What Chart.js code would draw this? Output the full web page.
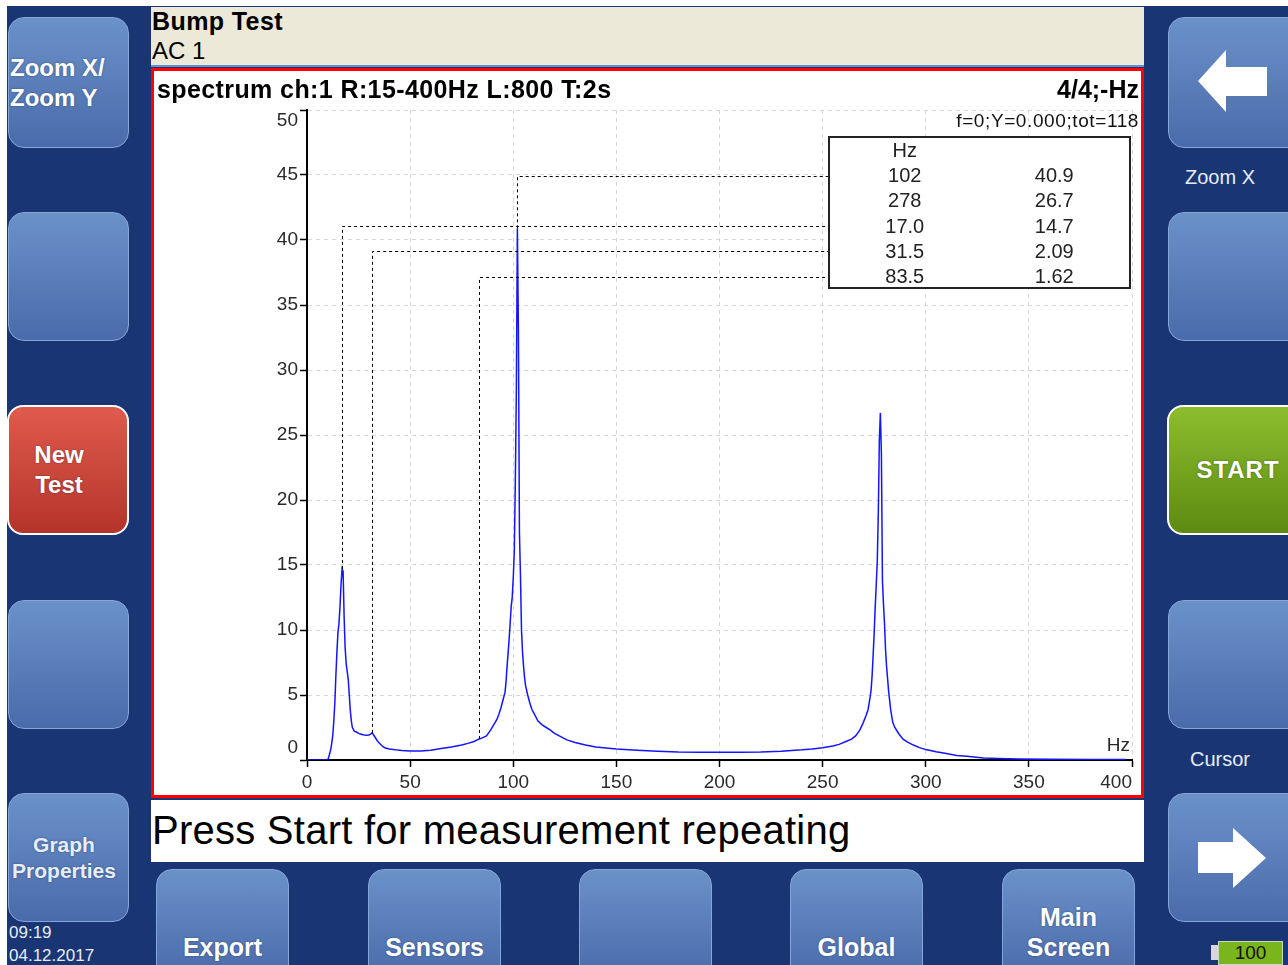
<!DOCTYPE html>
<html>
<head>
<meta charset="utf-8">
<title>Bump Test</title>
<script src="https://cdn.jsdelivr.net/npm/chart.js@4.4.1/dist/chart.umd.min.js"></script>
<style>
  html, body { margin: 0; padding: 0; }
  body {
    width: 1288px; height: 965px; overflow: hidden; position: relative;
    background: #fff; font-family: "Liberation Sans", Arial, sans-serif;
  }
  #panel { position: absolute; left: 7px; top: 6px; right: 0; bottom: 0; background: #1a3573; }
  .btn {
    position: absolute; box-sizing: border-box; border-radius: 16px;
    background: linear-gradient(#6b91c9, #4a6bab);
    border: 1px solid #86a6d8;
    color: #fff; font-weight: bold; font-size: 24px; line-height: 30px;
    display: flex; align-items: center; justify-content: center; text-align: center;
    text-shadow: 0 0 2px rgba(20, 30, 60, 0.5);
  }
  .btn.red { background: linear-gradient(#de5b4d, #b5342a); border: 2px solid #fff; }
  .btn.green { background: linear-gradient(#8cbd2d, #5d8b12); border: 2px solid #fff; }
  .btn.bottom { border-radius: 16px 16px 0 0; align-items: flex-end; padding-bottom: 2px; font-size: 25px; }
  .lbl { position: absolute; color: #e6ecf7; font-size: 20px; }
  #header { position: absolute; left: 151px; top: 7px; width: 993px; height: 58px; background: #ece9d8; border-bottom: 2px solid #6a8cc8; }
  #header .t1 { position: absolute; left: 1px; top: 0px; font-size: 25px; font-weight: bold; color: #000; letter-spacing: 0.4px; }
  #header .t2 { position: absolute; left: 1px; top: 30px; font-size: 24px; color: #000; }
  #frame { position: absolute; left: 151px; top: 68px; width: 993px; height: 730px; box-sizing: border-box; border: 3px solid #ff0000; background: #fff; }
  #chart { position: absolute; left: 154px; top: 71px; }
  .ctext { position: absolute; color: #000; white-space: nowrap; }
  #msg { position: absolute; left: 151px; top: 800px; width: 993px; height: 62px; background: #fff; }
  #msg span { position: absolute; left: 1px; top: 8px; font-size: 40px; letter-spacing: 0.25px; color: #000; }
  #peaks { position: absolute; left: 828px; top: 136px; width: 303px; height: 153px; box-sizing: border-box; border: 2px solid #222; background: #fff; }
  #peaks table { border-collapse: collapse; width: 100%; font-size: 20px; color: #222; }
  #peaks td { width: 50%; text-align: center; padding: 0; height: 25.2px; line-height: 25.2px; }
</style>
</head>
<body>
<div id="panel"></div>

<!-- coluna esquerda -->
<div class="btn" style="left:8px;top:17px;width:121px;height:131px;justify-content:flex-start;text-align:left;padding-left:1px;">Zoom X/<br>Zoom Y</div>
<div class="btn" style="left:8px;top:212px;width:121px;height:129px;"></div>
<div class="btn red" style="left:7px;top:405px;width:122px;height:130px;padding-right:18px;">New<br>Test</div>
<div class="btn" style="left:8px;top:600px;width:121px;height:129px;"></div>
<div class="btn" style="left:8px;top:793px;width:121px;height:129px;font-size:21px;line-height:26px;color:#e8eef8;padding-right:9px;">Graph<br>Properties</div>
<div class="lbl" style="left:9px;top:921px;font-size:17px;line-height:23px;">09:19<br>04.12.2017</div>

<!-- coluna direita -->
<div class="btn" style="left:1168px;top:17px;width:140px;height:131px;">
  <svg width="140" height="131" style="position:absolute;left:-1px;top:-1px">
    <polygon points="30,64 58,33 58,50 99,50 99,79 58,79 58,95" fill="#fff"/>
  </svg>
</div>
<div class="lbl" style="left:1185px;top:166px;">Zoom X</div>
<div class="btn" style="left:1168px;top:212px;width:140px;height:129px;"></div>
<div class="btn green" style="left:1167px;top:405px;width:142px;height:130px;letter-spacing:1px;">START</div>
<div class="btn" style="left:1168px;top:600px;width:140px;height:129px;"></div>
<div class="lbl" style="left:1190px;top:748px;">Cursor</div>
<div class="btn" style="left:1168px;top:793px;width:140px;height:129px;">
  <svg width="140" height="129" style="position:absolute;left:-1px;top:-1px">
    <polygon points="98,65 65,35 65,49 30,49 30,80 65,80 65,95" fill="#fff"/>
  </svg>
</div>
<div style="position:absolute;left:1211px;top:945px;width:8px;height:15px;background:#d8d8d8;"></div>
<div style="position:absolute;left:1218px;top:941px;width:65px;height:24px;box-sizing:border-box;border:1px solid #cfd6c0;background:#7ab51d;color:#111;font-size:19px;text-align:center;line-height:22px;">100</div>

<!-- linha de botões inferior -->
<div class="btn bottom" style="left:156px;top:869px;width:133px;height:110px;"><span style="position:absolute;top:62px;left:0;right:0;">Export</span></div>
<div class="btn bottom" style="left:368px;top:869px;width:133px;height:110px;"><span style="position:absolute;top:62px;left:0;right:0;">Sensors</span></div>
<div class="btn bottom" style="left:579px;top:869px;width:133px;height:110px;"></div>
<div class="btn bottom" style="left:790px;top:869px;width:133px;height:110px;"><span style="position:absolute;top:62px;left:0;right:0;">Global</span></div>
<div class="btn bottom" style="left:1002px;top:869px;width:133px;height:110px;"><span style="position:absolute;top:32px;left:0;right:0;">Main<br>Screen</span></div>

<!-- cabeçalho e moldura do gráfico -->
<div id="header"><div class="t1">Bump Test</div><div class="t2">AC 1</div></div>
<div id="frame"></div>
<canvas id="chart" width="987" height="724"></canvas>
<div class="ctext" style="left:157px;top:75px;font-size:25px;font-weight:bold;letter-spacing:0.4px;">spectrum ch:1 R:15-400Hz L:800 T:2s</div>
<div class="ctext" style="right:149px;top:75px;font-size:25px;font-weight:bold;">4/4;-Hz</div>
<div class="ctext" style="right:149px;top:110px;font-size:19px;letter-spacing:0.6px;color:#111;">f=0;Y=0.000;tot=118</div>
<div id="peaks"><table id="peakTable"><tr><td>Hz</td><td></td></tr></table></div>

<div id="msg"><span>Press Start for measurement repeating</span></div>

<script>
// Espectro (frequência em Hz, amplitude)
const freqHz = [0, 5, 10, 10.5, 11, 11.5, 12, 12.5, 13, 13.5, 14, 14.5, 15, 15.5, 16, 16.5, 17, 17.5, 18, 18.5,
  19, 19.5, 20, 20.5, 21, 21.5, 22, 23, 24, 25, 26, 27, 28, 29, 30, 31, 31.5, 32, 33, 34, 35, 36, 37, 38,
  40, 42, 44, 46, 50, 55, 60, 65, 70, 75, 78, 81, 83.5, 85, 87, 89, 90.5, 92, 93, 94, 95, 96, 96.5, 97,
  97.5, 98, 98.5, 99, 99.5, 100, 100.5, 101, 101.5, 102, 102.5, 103, 103.5, 104, 104.5, 105, 105.5, 106,
  107, 108, 109, 110, 112, 114, 116, 118, 120, 123, 126, 130, 135, 140, 150, 160, 170, 180, 190, 200, 210,
  220, 230, 240, 245, 250, 255, 258, 261, 264, 266, 268, 269.5, 271, 272, 273, 273.5, 274, 274.5, 275,
  275.5, 276, 276.5, 277, 277.5, 278, 278.5, 279, 279.5, 280, 280.5, 281, 282, 283, 284, 285, 287, 289,
  291, 294, 297, 300, 305, 310, 315, 320, 328, 335, 345, 360, 380, 397];
const amplitude = [0, 0, 0, 0.2, 0.5, 0.8, 1.3, 1.9, 3.0, 4.4, 6.5, 8.3, 9.8, 10.5, 11.8, 13.5, 14.7, 14.5, 11.0, 8.6,
  7.4, 6.8, 6.2, 5.0, 3.8, 3.0, 2.5, 2.2, 2.15, 2.05, 2.0, 1.95, 1.92, 1.9, 1.92, 2.0, 2.09, 2.0, 1.75, 1.5, 1.3, 1.15, 1.0, 0.92,
  0.85, 0.8, 0.76, 0.73, 0.7, 0.7, 0.75, 0.88, 1.0, 1.15, 1.28, 1.42, 1.62, 1.7, 1.85, 2.3, 2.7, 3.1, 3.5, 4.0, 4.6, 5.2, 6.0, 7.2,
  8.2, 9.3, 10.5, 11.8, 12.5, 14.0, 16.0, 21.3, 28.4, 40.9, 33.0, 17.5, 14.2, 10.0, 8.3, 7.2, 6.3, 5.7,
  5.0, 4.4, 3.9, 3.6, 3.0, 2.7, 2.5, 2.3, 2.05, 1.8, 1.55, 1.35, 1.15, 1.0, 0.85, 0.75, 0.68, 0.62, 0.6, 0.6, 0.6,
  0.62, 0.68, 0.78, 0.85, 0.95, 1.08, 1.2, 1.4, 1.6, 1.85, 2.3, 2.8, 3.4, 3.85, 4.8, 5.4, 6.5, 8.1, 9.8,
  11.8, 13.5, 15.3, 19.0, 24.6, 26.7, 23.5, 13.8, 12.0, 10.5, 8.5, 7.2, 5.3, 3.85, 2.9, 2.5, 2.0, 1.6,
  1.4, 1.15, 0.95, 0.8, 0.64, 0.5, 0.35, 0.28, 0.15, 0.12, 0.08, 0.05, 0.04, 0.03];

// Picos listados na tabela
const peakHz = [102, 278, 17.0, 31.5, 83.5];
const peakAmp = [40.9, 26.7, 14.7, 2.09, 1.62];

// Rótulos dos eixos
const xTicks = [0, 50, 100, 150, 200, 250, 300, 350, 400];
const yTicks = [0, 5, 10, 15, 20, 25, 30, 35, 40, 45, 50];

// Preencher tabela de picos
const table = document.getElementById('peakTable');
peakHz.forEach((f, i) => {
    const tr = document.createElement('tr');
    tr.innerHTML = `<td>${f.toPrecision(3)}</td><td>${peakAmp[i].toPrecision(3)}</td>`;
    table.appendChild(tr);
});

const canvas = document.getElementById('chart');
const canvasRect = canvas.getBoundingClientRect();
const peakBox = document.getElementById('peaks').getBoundingClientRect();
const rowCenters = Array.from(table.rows).slice(1).map(r => {
    const rc = r.getBoundingClientRect();
    return Math.round((rc.top + rc.bottom) / 2 - canvasRect.top);
});
const tableLeft = peakBox.left - canvasRect.left;

// Linhas tracejadas ligando os picos à tabela
const markerLines = {
    id: 'markerLines',
    afterDatasetsDraw(chart) {
        const {ctx, scales: {x, y}} = chart;
        ctx.save();
        ctx.strokeStyle = '#000';
        ctx.lineWidth = 1;
        ctx.setLineDash([3, 3]);
        peakHz.forEach((f, i) => {
            const px = Math.round(x.getPixelForValue(f)) + 0.5;
            if (px >= tableLeft) return;
            const py = y.getPixelForValue(peakAmp[i]);
            const ry = rowCenters[i] + 0.5;
            ctx.beginPath();
            ctx.moveTo(px, py);
            ctx.lineTo(px, ry);
            ctx.lineTo(tableLeft, ry);
            ctx.stroke();
        });
        ctx.restore();
    }
};

// Rótulos dos eixos desenhados dentro da área, como no aparelho
const axisLabels = {
    id: 'axisLabels',
    afterDraw(chart) {
        const {ctx, chartArea: a, scales: {x, y}} = chart;
        ctx.save();
        ctx.fillStyle = '#2a2a2a';
        ctx.font = '19px "Liberation Sans", Arial, sans-serif';
        ctx.textBaseline = 'middle';
        ctx.textAlign = 'right';
        yTicks.forEach(v => {
            let py = y.getPixelForValue(v);
            py = Math.min(Math.max(py, a.top + 11), a.bottom - 12);
            ctx.fillText(String(v), a.left - 9, py);
        });
        ctx.textAlign = 'center';
        xTicks.forEach(v => {
            const w = ctx.measureText(String(v)).width;
            const px = Math.min(x.getPixelForValue(v), a.right - w / 2);
            ctx.fillText(String(v), px, a.bottom + 23);
        });
        ctx.textAlign = 'right';
        ctx.fillText('Hz', a.right - 2, a.bottom - 14);
        ctx.restore();
    }
};

const gridOpts = {
    color: '#d6d6d6',
    lineWidth: 1,
    tickColor: '#000',
    tickWidth: 1.5,
    tickLength: 7,
    tickBorderDash: []
};

new Chart(canvas.getContext('2d'), {
    type: 'line',
    data: {
        datasets: [{
            data: freqHz.map((f, i) => ({x: f, y: amplitude[i]})),
            borderColor: '#1414ff',
            borderWidth: 1.5,
            pointRadius: 0,
            tension: 0,
            fill: false
        }]
    },
    options: {
        responsive: false,
        animation: false,
        layout: { padding: { top: 39, right: 9, left: 0, bottom: 0 } },
        plugins: { legend: { display: false }, tooltip: { enabled: false } },
        scales: {
            x: {
                type: 'linear',
                min: 0,
                max: 400,
                afterBuildTicks: s => { s.ticks = xTicks.map(v => ({value: v})); },
                afterFit: s => { s.height = 35; },
                ticks: { display: false },
                grid: gridOpts,
                border: { display: true, color: '#000', width: 2, dash: [4, 4] }
            },
            y: {
                min: 0,
                max: 50,
                afterBuildTicks: s => { s.ticks = yTicks.map(v => ({value: v})); },
                afterFit: s => { s.width = 153; },
                ticks: { display: false },
                grid: gridOpts,
                border: { display: true, color: '#000', width: 2, dash: [4, 4] }
            }
        }
    },
    plugins: [markerLines, axisLabels]
});
</script>
</body>
</html>
